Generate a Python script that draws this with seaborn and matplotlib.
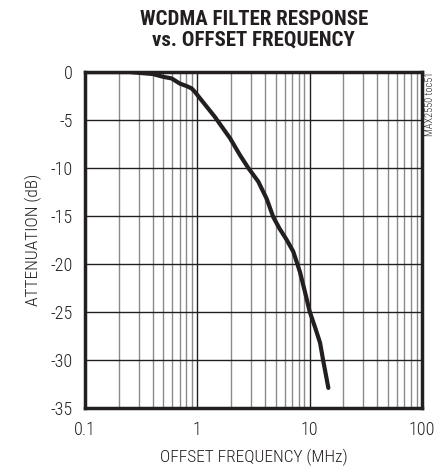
import numpy as np
import pandas as pd
import matplotlib.pyplot as plt
import seaborn as sns
from matplotlib.ticker import LogLocator, FixedLocator, FixedFormatter

# 数据
freq_mhz = [0.1, 0.25, 0.4, 0.5, 0.59, 0.70, 0.80, 0.89, 0.95, 1.06, 1.43, 1.96,
            2.40, 2.85, 3.49, 4.15, 4.75, 5.4, 6.2, 7.16, 8.2, 9.1, 10.0, 11.2, 12.4, 13.2, 14.7]
atten_db = [0.0, 0.0, -0.2, -0.5, -0.66, -1.2, -1.45, -1.7, -2.05, -2.75, -4.65, -6.9,
            -8.65, -10.0, -11.4, -13.2, -15.1, -16.3, -17.4, -18.7, -20.8, -22.9, -24.9,
            -26.6, -28.2, -30.0, -32.9]

x_ticks = [0.1, 1, 10, 100]
x_ticklabels = ["0.1", "1", "10", "100"]
y_ticks = [0, -5, -10, -15, -20, -25, -30, -35]

sns.set_theme(style="white")
plt.rcParams['font.family'] = ['Roboto Condensed', 'DejaVu Sans']
plt.rcParams['axes.unicode_minus'] = False

df = pd.DataFrame({"freq": freq_mhz, "atten": atten_db})

fig = plt.figure(figsize=(4.45, 4.68), dpi=100)
ax = fig.add_axes([0.191, 0.128, 0.757, 0.718])

sns.lineplot(data=df, x="freq", y="atten", ax=ax, color="#231f20", linewidth=3.0)

ax.set_xscale("log")
ax.set_xlim(0.1, 100)
ax.set_ylim(-35, 0)

ax.xaxis.set_major_locator(FixedLocator(x_ticks))
ax.xaxis.set_major_formatter(FixedFormatter(x_ticklabels))
ax.xaxis.set_minor_locator(LogLocator(base=10, subs=np.arange(2, 10)))
ax.set_yticks(y_ticks)
ax.set_yticklabels([str(v) for v in y_ticks])

# 网格：主线黑色，次线灰色
ax.grid(which="major", axis="both", color="#231f20", linewidth=1.0)
ax.grid(which="minor", axis="x", color="#8a8a8a", linewidth=1.0)
ax.set_axisbelow(True)

for sp in ax.spines.values():
    sp.set_color("#231f20")
    sp.set_linewidth(2.5)

ax.tick_params(axis="both", which="both", length=0, labelsize=13, colors="#231f20", pad=9)
for lb in ax.get_xticklabels() + ax.get_yticklabels():
    lb.set_fontweight("light")

ax.set_xlabel("OFFSET FREQUENCY (MHz)", fontsize=12.5, fontweight="light", color="#231f20", labelpad=7)
ax.set_ylabel("ATTENUATION (dB)", fontsize=12.5, fontweight="light", color="#231f20", labelpad=6)

fig.text(0.57, 0.978, "WCDMA FILTER RESPONSE\nvs. OFFSET FREQUENCY", ha="center", va="top",
         fontsize=15, fontweight="black", color="#231f20", linespacing=1.1)

fig.text(0.967, 0.846, "MAX2550 toc51", rotation=90, ha="center", va="top",
         fontsize=7.5, fontweight="light", color="#231f20")

fig.savefig("out.png", dpi=100)
